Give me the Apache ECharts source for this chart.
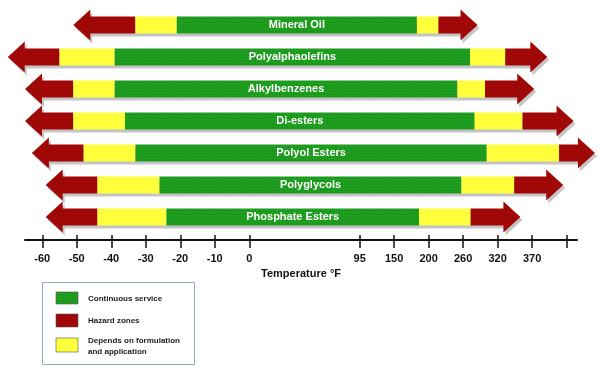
<!DOCTYPE html>
<html>
<head>
<meta charset="utf-8">
<script src="https://cdn.jsdelivr.net/npm/echarts@6/dist/echarts.min.js"></script>
<style>
  html, body { margin: 0; padding: 0; background: #fff; }
  #chart { width: 600px; height: 371px; }
</style>
</head>
<body>
<div id="chart"></div>
<script>
// lubricant types, top to bottom
const oils = ['Mineral Oil', 'Polyalphaolefins', 'Alkylbenzenes', 'Di-esters', 'Polyol Esters', 'Polyglycols', 'Phosphate Esters'];
// zone edges in °F
const hazardLow   = [-51, -70, -65, -65, -63, -59, -59];
const dependsLow  = [-33, -55, -51, -51, -48, -44, -44];
const serviceLow  = [-21, -39, -39, -36, -33, -26, -24];
const serviceHigh = [183, 272, 250, 280, 301, 257, 186];
const dependsHigh = [217, 331, 298, 356, 409, 344, 273];
const hazardHigh  = [285, 392, 373, 430, 461, 415, 353];

// axis ticks: the scale is not linear, each tick is one step
const tickTemps = [-60, -50, -40, -30, -20, -10, 0, 95, 150, 200, 260, 320, 370];
const tickSteps = [0, 1, 2, 3, 4, 5, 6, 9.2, 10.2, 11.2, 12.2, 13.2, 14.2, 15.2];
const tickLabels = tickTemps.map(String).concat(['']);

const RED = '#a00808', YELLOW = '#ffff3c', GREEN = '#20a020';

// °F -> axis step, piecewise between labelled ticks
function toStep(t) {
  const n = tickTemps.length;
  if (t <= tickTemps[0]) return tickSteps[0] + (t - tickTemps[0]) / 10;
  for (let i = 1; i < n; i++) {
    if (t <= tickTemps[i]) {
      const f = (t - tickTemps[i - 1]) / (tickTemps[i] - tickTemps[i - 1]);
      return tickSteps[i - 1] + f * (tickSteps[i] - tickSteps[i - 1]);
    }
  }
  return tickSteps[n - 1] + (t - tickTemps[n - 1]) / 50;
}

// dotted texture for the green part
function makeDots() {
  const c = document.createElement('canvas');
  c.width = 3; c.height = 3;
  const g = c.getContext('2d');
  g.fillStyle = GREEN; g.fillRect(0, 0, 3, 3);
  g.fillStyle = '#178c17'; g.fillRect(0, 0, 1, 1); g.fillRect(2, 1, 1, 1);
  return c;
}
const greenFill = { image: makeDots(), repeat: 'repeat' };

const rows = oils.map((name, i) => [i,
  toStep(hazardLow[i]), toStep(dependsLow[i]), toStep(serviceLow[i]),
  toStep(serviceHigh[i]), toStep(dependsHigh[i]), toStep(hazardHigh[i]), name]);

function renderArrow(params, api) {
  const row = api.value(0);
  const px = v => api.coord([v, row])[0];
  const cy = api.coord([0, row])[1];
  const x0 = px(api.value(1)), x1 = px(api.value(2)), x2 = px(api.value(3));
  const x3 = px(api.value(4)), x4 = px(api.value(5)), x5 = px(api.value(6));
  const bh = 8.5, hh = 15.5, hl = 17;
  const left = [[x0, cy], [x0 + hl, cy - hh], [x0 + hl, cy - bh], [x1, cy - bh],
    [x1, cy + bh], [x0 + hl, cy + bh], [x0 + hl, cy + hh]];
  const right = [[x5, cy], [x5 - hl, cy - hh], [x5 - hl, cy - bh], [x4, cy - bh],
    [x4, cy + bh], [x5 - hl, cy + bh], [x5 - hl, cy + hh]];
  const outline = [[x0, cy], [x0 + hl, cy - hh], [x0 + hl, cy - bh], [x5 - hl, cy - bh],
    [x5 - hl, cy - hh], [x5, cy], [x5 - hl, cy + hh], [x5 - hl, cy + bh],
    [x0 + hl, cy + bh], [x0 + hl, cy + hh]];
  return {
    type: 'group',
    children: [
      { type: 'polygon', x: 2, y: 3, shape: { points: outline },
        style: { fill: 'rgba(90,90,90,0.35)' } },
      { type: 'polygon', shape: { points: left }, style: { fill: RED } },
      { type: 'rect', shape: { x: x1, y: cy - bh, width: x2 - x1, height: bh * 2 }, style: { fill: YELLOW } },
      { type: 'rect', shape: { x: x2, y: cy - bh, width: x3 - x2, height: bh * 2 }, style: { fill: greenFill } },
      { type: 'rect', shape: { x: x3, y: cy - bh, width: x4 - x3, height: bh * 2 }, style: { fill: YELLOW } },
      { type: 'polygon', shape: { points: right }, style: { fill: RED } },
      { type: 'text', style: { text: api.value(7), x: (x2 + x3) / 2, y: cy,
          fill: '#fff', font: 'bold 11px "Liberation Sans", Arial, sans-serif',
          align: 'center', verticalAlign: 'middle' } }
    ]
  };
}

// legend box
const legendItems = [
  { color: greenFill, y: 292, h: 12, text: 'Continuous service', ty: 299 },
  { color: RED, y: 314, h: 13, text: 'Hazard zones', ty: 321 },
  { color: YELLOW, y: 338, h: 14, text: 'Depends on formulation\nand application', ty: 346 }
];
const graphics = [{ type: 'rect', shape: { x: 42.5, y: 282.5, width: 152, height: 82 },
  style: { fill: '#fff', stroke: '#94a9c3', lineWidth: 1 } }];
legendItems.forEach(it => {
  graphics.push({ type: 'rect', shape: { x: 56, y: it.y, width: 22, height: it.h },
    style: { fill: it.color, stroke: '#555', lineWidth: 0.6 } });
  graphics.push({ type: 'text', x: 88, y: it.ty, style: { text: it.text,
    font: 'bold 8px "Liberation Sans", Arial, sans-serif',
    fill: '#222', verticalAlign: 'middle', lineHeight: 11 } });
});

const chart = echarts.init(document.getElementById('chart'));
const axisBase = { type: 'value', min: -0.5, max: 15.5, position: 'bottom', offset: 7, splitLine: { show: false } };
chart.setOption({
  animation: false,
  grid: { left: 25, right: 23, top: 9, bottom: 138 },
  xAxis: [
    Object.assign({}, axisBase, {
      name: 'Temperature °F', nameLocation: 'middle', nameGap: 27,
      nameTextStyle: { color: '#111', fontWeight: 'bold', fontSize: 11, fontFamily: 'Liberation Sans' },
      axisLine: { show: true, lineStyle: { color: '#111', width: 2 } },
      axisTick: { show: true, customValues: tickSteps, length: 8, lineStyle: { color: '#111', width: 1.5 } },
      axisLabel: { customValues: tickSteps, margin: 13, color: '#111', fontWeight: 'bold', fontSize: 11,
        fontFamily: 'Liberation Sans',
        formatter: v => { const k = tickSteps.findIndex(s => Math.abs(s - v) < 1e-6); return k < 0 ? '' : tickLabels[k]; } }
    }),
    Object.assign({}, axisBase, {
      axisLine: { show: false },
      axisTick: { show: true, inside: true, customValues: tickSteps, length: 5, lineStyle: { color: '#111', width: 1.5 } },
      axisLabel: { show: false }
    })
  ],
  yAxis: { type: 'category', data: oils, inverse: true, show: false },
  series: [{ type: 'custom', renderItem: renderArrow, data: rows, clip: false,
    encode: { x: [1, 6], y: 0 } }],
  graphic: graphics
});
</script>
</body>
</html>
